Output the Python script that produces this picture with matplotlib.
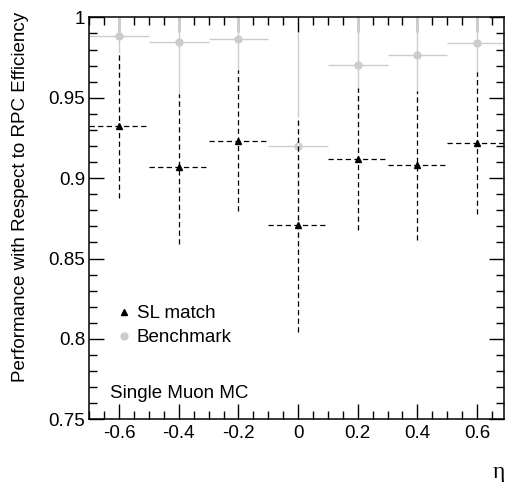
import matplotlib
matplotlib.use('Agg')
import matplotlib.pyplot as plt
from matplotlib.ticker import MultipleLocator
from matplotlib.lines import Line2D

plt.rcParams['font.family'] = ['Liberation Sans', 'DejaVu Sans']
plt.rcParams['lines.scale_dashes'] = False

eta = [-0.6, -0.4, -0.2, 0.0, 0.2, 0.4, 0.6]
bin_half = [0.1] * 7

sl_match = [0.9327, 0.9068, 0.9233, 0.8707, 0.9116, 0.9080, 0.9220]
sl_err_up = [0.0460, 0.0455, 0.0440, 0.0671, 0.0444, 0.0459, 0.0443]
sl_err_down = [0.0453, 0.0478, 0.0437, 0.0665, 0.0438, 0.0466, 0.0440]

benchmark = [0.9886, 0.9849, 0.9866, 0.9203, 0.9704, 0.9768, 0.9843]
bench_err = [0.030, 0.040, 0.035, 0.070, 0.040, 0.035, 0.030]

fig = plt.figure(figsize=(5.09, 4.82), dpi=100)
ax = fig.add_axes([0.1754, 0.130, 0.8146, 0.834])

gray = '#cccccc'
fs = 13.5
eb = ax.errorbar(eta, benchmark, xerr=bin_half, yerr=bench_err, fmt='o', color=gray,
                 ms=5, elinewidth=1.0, capsize=0, zorder=2)

sl = ax.errorbar(eta, sl_match, xerr=bin_half, yerr=[sl_err_down, sl_err_up], fmt='^',
                 color='black', ms=4.5, elinewidth=0.9, capsize=0, zorder=3)
for col in sl[2]:
    col.set_linestyle((0, (3.8, 2.4)))
    try:
        col.set_gapcolor('white')
    except AttributeError:
        pass

ax.set_xlim(-0.7, 0.69)
ax.set_ylim(0.75, 1.0)
ax.xaxis.set_major_locator(MultipleLocator(0.2))
ax.xaxis.set_minor_locator(MultipleLocator(0.05))
ax.yaxis.set_major_locator(MultipleLocator(0.05))
ax.yaxis.set_minor_locator(MultipleLocator(0.01))
ax.tick_params(which='both', direction='in', top=True, right=True, labelsize=fs, width=1)
ax.tick_params(which='major', length=11)
ax.tick_params(which='minor', length=6)
ax.tick_params(axis='x', pad=4)
ax.tick_params(axis='y', pad=3)
ax.set_xticks(eta)
ax.set_xticklabels(['-0.6', '-0.4', '-0.2', '0', '0.2', '0.4', '0.6'])
ax.set_yticks([0.75, 0.8, 0.85, 0.9, 0.95, 1.0])
ax.set_yticklabels(['0.75', '0.8', '0.85', '0.9', '0.95', '1'])
for s in ax.spines.values():
    s.set_linewidth(1.1)

fig.text(21 / 509, 1 - 197 / 482, 'Performance with Respect to RPC Efficiency', fontsize=fs,
         rotation=90, ha='center', va='center')
fig.text(0.980, 0.042, 'η', fontsize=17, ha='center', va='top',
         family=['Liberation Serif', 'DejaVu Serif'])

handles = [Line2D([], [], marker='^', color='black', ls='none', ms=4.5),
           Line2D([], [], marker='o', color=gray, ls='none', ms=5)]
ax.legend(handles, ['SL match', 'Benchmark'], loc='lower left', bbox_to_anchor=(0.015, 0.14),
          frameon=False, fontsize=fs, handletextpad=0.1, handlelength=1.2, labelspacing=0.35)

ax.text(0.05, 0.065, 'Single Muon MC', transform=ax.transAxes, fontsize=fs, va='center')

fig.savefig('out.png', dpi=100)
